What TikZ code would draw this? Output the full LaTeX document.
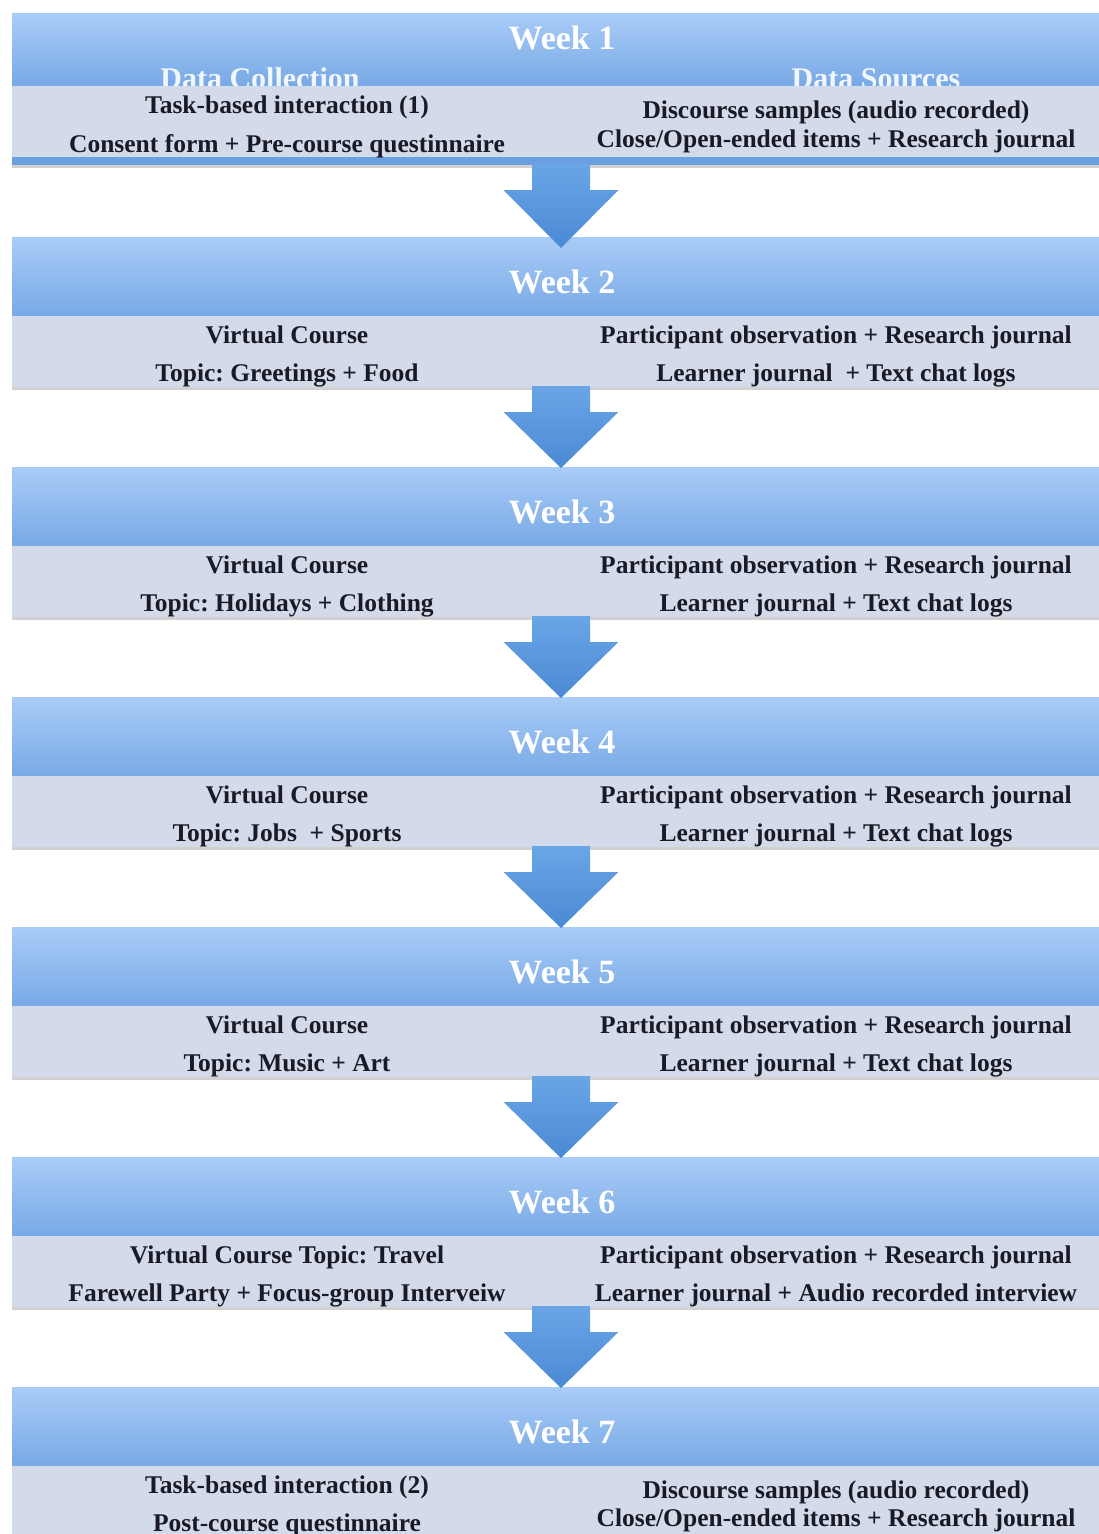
\documentclass[tikz,border=0pt]{standalone}
\usepackage{fontspec}
\setmainfont{Liberation Serif}
\frenchspacing
\usetikzlibrary{calc}
\definecolor{hdrtop}{HTML}{A9CCF7}
\definecolor{hdrbot}{HTML}{78A9E6}
\definecolor{bandc}{HTML}{D3DBEA}
\definecolor{stripc}{HTML}{6A9FE0}
\definecolor{arrtop}{HTML}{6AA5E6}
\definecolor{arrbot}{HTML}{4A89D4}
\definecolor{txtc}{HTML}{1A1A26}
\tikzset{
  header/.style={rectangle, inner sep=0pt, outer sep=0pt, minimum width=1095pt, top color=hdrtop, bottom color=hdrbot, anchor=north west},
  band/.style={rectangle, inner sep=0pt, outer sep=0pt, minimum width=1095pt, minimum height=71pt, fill=bandc, anchor=north west},
  weeklbl/.style={font=\bfseries\fontsize{34}{34}\selectfont, text=white, anchor=base, inner sep=0pt},
  collbl/.style={font=\bfseries\fontsize{30}{30}\selectfont, text=white, text opacity=0.9, anchor=base, inner sep=0pt},
  rowtxt/.style={font=\bfseries\fontsize{25.5}{25.5}\selectfont, text=txtc, anchor=base, inner sep=0pt},
  blockarrow/.style={top color=arrtop, bottom color=arrbot, draw=none},
  shadowline/.style={fill=black, fill opacity=0.18, draw=none}
}
\newcommand{\weekblock}[7]{%
  % #1 index, #2 top, #3 L1, #4 L2, #5 R1, #6 R2, #7 right offset
  \node[header, minimum height=79pt] (h#1) at (12,#2) {};
  \node[weeklbl] (w#1) at (562,#2+56) {Week #1};
  \fill[shadowline] (12,#2+150) rectangle (1099,#2+153);
  \node[band] (b#1) at (12,#2+79) {};
  \node[rowtxt] (l#1a) at (287,#2+79+27) {#3};
  \node[rowtxt] (l#1b) at (287,#2+79+65) {#4};
  \node[rowtxt] (r#1a) at (836,#2+79+27+#7) {#5};
  \node[rowtxt] (r#1b) at (836,#2+79+65-#7) {#6};
}
\newcommand{\flowarrow}[3]{%
  % #1 name, #2 start coordinate, #3 end coordinate
  \path[blockarrow] ($(#2)+(-29,-1)$) -- ++(58,0) -- ++(0,26) -- ++(28.5,0)
     -- (#3) -- ($(#2)+(-57.5,25)$) -- ++(28.5,0) -- cycle;
}
\begin{document}
\begin{tikzpicture}[x=1pt,y=-1pt]
\useasboundingbox (0,0) rectangle (1099,1534);
\clip (0,0) rectangle (1099,1534);
\fill[white] (0,0) rectangle (1099,1534);

% Week 1
\node[header, minimum height=73pt] (h1) at (12,13) {};
\node[weeklbl] (w1) at (562,49) {Week 1};
\node[collbl] (dc) at (260,88) {Data Collection};
\node[collbl] (ds) at (876,88) {Data Sources};
\fill[shadowline] (12,165) rectangle (1099,168);
\node[rectangle, inner sep=0pt, outer sep=0pt, minimum width=1095pt, minimum height=8pt, fill=stripc, anchor=north west] (s1) at (12,157) {};
\node[band] (b1) at (12,86) {};
\node[rowtxt] (l1a) at (287,113) {Task-based interaction (1)};
\node[rowtxt] (l1b) at (287,152) {Consent form + Pre-course questinnaire};
\node[rowtxt] (r1a) at (836,118) {Discourse samples (audio recorded)};
\node[rowtxt] (r1b) at (836,147) {Close/Open-ended items + Research journal};

\weekblock{2}{237}{Virtual Course}{Topic: Greetings + Food}{Participant observation + Research journal}{Learner journal\ \ + Text chat logs}{0}
\weekblock{3}{467}{Virtual Course}{Topic: Holidays + Clothing}{Participant observation + Research journal}{Learner journal + Text chat logs}{0}
\weekblock{4}{697}{Virtual Course}{Topic: Jobs\ \ + Sports}{Participant observation + Research journal}{Learner journal + Text chat logs}{0}
\weekblock{5}{927}{Virtual Course}{Topic: Music + Art}{Participant observation + Research journal}{Learner journal + Text chat logs}{0}
\weekblock{6}{1157}{Virtual Course Topic: Travel}{Farewell Party + Focus-group Interveiw}{Participant observation + Research journal}{Learner journal + Audio recorded interview}{0}
\weekblock{7}{1387}{Task-based interaction (2)}{Post-course questinnaire}{Discourse samples (audio recorded)}{Close/Open-ended items + Research journal}{5}

% arrows between blocks
\coordinate (a1s) at (561,165);  \coordinate (a1e) at (561,248);
\coordinate (a2s) at (561,387);  \coordinate (a2e) at (561,468);
\coordinate (a3s) at (561,617);  \coordinate (a3e) at (561,698);
\coordinate (a4s) at (561,847);  \coordinate (a4e) at (561,928);
\coordinate (a5s) at (561,1077); \coordinate (a5e) at (561,1158);
\coordinate (a6s) at (561,1307); \coordinate (a6e) at (561,1388);
\flowarrow{arr1}{a1s}{a1e}
\flowarrow{arr2}{a2s}{a2e}
\flowarrow{arr3}{a3s}{a3e}
\flowarrow{arr4}{a4s}{a4e}
\flowarrow{arr5}{a5s}{a5e}
\flowarrow{arr6}{a6s}{a6e}
\end{tikzpicture}
\end{document}
